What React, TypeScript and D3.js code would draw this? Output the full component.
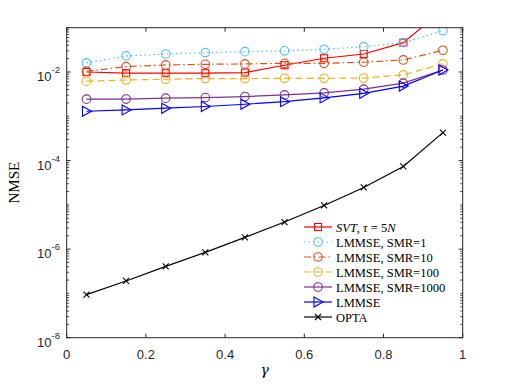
import React from "react";
import * as d3 from "d3";

const gammas = [0.05, 0.15, 0.25, 0.35, 0.45, 0.55, 0.65, 0.75, 0.85, 0.95];
const svt = [0.0100, 0.0094, 0.0094, 0.0094, 0.0097, 0.0142, 0.0204, 0.0255, 0.046, 0.25];
const smr1 = [0.016, 0.023, 0.0255, 0.0274, 0.0288, 0.030, 0.0326, 0.0373, 0.046, 0.0855];
const smr10 = [0.0104, 0.0132, 0.0144, 0.0149, 0.0152, 0.0157, 0.0157, 0.0166, 0.0187, 0.031];
const smr100 = [0.0062, 0.0066, 0.00686, 0.0071, 0.0071, 0.0072, 0.0072, 0.0073, 0.0086, 0.0152];
const smr1000 = [0.00243, 0.00245, 0.00256, 0.00264, 0.00279, 0.00304, 0.00337, 0.0041, 0.0056, 0.0111];
const lmmse = [0.0013, 0.00139, 0.00152, 0.00166, 0.00187, 0.00214, 0.0026, 0.0033, 0.0048, 0.0111];
const opta = [9.4e-8, 1.91e-7, 4.08e-7, 8.45e-7, 1.84e-6, 4.09e-6, 9.7e-6, 2.47e-5, 7.35e-5, 4.28e-4];

const xTicks = [0, 0.2, 0.4, 0.6, 0.8, 1];
const xTickLabels = ["0", "0.2", "0.4", "0.6", "0.8", "1"];
const yMajorExps = [-8, -6, -4, -2];

type Series = {
  name: string;
  values: number[];
  color: string;
  dash: string;
  marker: "square" | "circle" | "triangle" | "x";
  width: number;
};

const series: Series[] = [
  { name: "svt", values: svt, color: "#FF0000", dash: "", marker: "square", width: 1.2 },
  { name: "LMMSE, SMR=1", values: smr1, color: "#4DBEEE", dash: "1.5,3", marker: "circle", width: 1.2 },
  { name: "LMMSE, SMR=10", values: smr10, color: "#D95319", dash: "7,3,1.5,3", marker: "circle", width: 1.2 },
  { name: "LMMSE, SMR=100", values: smr100, color: "#EDB120", dash: "7,4", marker: "circle", width: 1.2 },
  { name: "LMMSE, SMR=1000", values: smr1000, color: "#7E2F8E", dash: "", marker: "circle", width: 1.2 },
  { name: "LMMSE", values: lmmse, color: "#0000FF", dash: "", marker: "triangle", width: 1.2 },
  { name: "OPTA", values: opta, color: "#000000", dash: "", marker: "x", width: 1.2 },
];

const W = 512, H = 384;
const L = 66.7, R = 462.7, T = 27.7, B = 337.7;

function Marker({ type, x, y, color }: { type: string; x: number; y: number; color: string }) {
  if (type === "circle") return <circle cx={x} cy={y} r={4.3} fill="none" stroke={color} strokeWidth={1.1} />;
  if (type === "square") return <rect x={x - 3.5} y={y - 3.5} width={7} height={7} fill="none" stroke={color} strokeWidth={1.1} />;
  if (type === "triangle")
    return <path d={`M${x - 4},${y - 5}L${x + 5},${y}L${x - 4},${y + 5}Z`} fill="none" stroke={color} strokeWidth={1.1} />;
  return <path d={`M${x - 3},${y - 3}L${x + 3},${y + 3}M${x - 3},${y + 3}L${x + 3},${y - 3}`} stroke={color} strokeWidth={1.1} />;
}

export default function App() {
  const x = d3.scaleLinear().domain([0, 1]).range([L, R]);
  const y = d3.scaleLog().domain([1e-8, 1e-1]).range([B, T]);
  const line = d3.line<number>().x((_, i) => x(gammas[i])).y((d) => y(d));

  const minor: number[] = [];
  for (let e = -8; e < -1; e++) {
    for (let k = 1; k <= 9; k++) {
      const v = k * Math.pow(10, e);
      if (k === 1 && yMajorExps.includes(e)) continue;
      minor.push(v);
    }
  }
  minor.push(1e-1);

  const axisColor = "#262626";
  const legX0 = 304, legX1 = 332, legTextX = 336, legY0 = 227, legDy = 15;

  return (
    <svg width={W} height={H} style={{ position: "absolute", left: 0, top: 0, background: "#fff" }}>
      <defs>
        <clipPath id="plotclip">
          <rect x={L} y={T} width={R - L} height={B - T} />
        </clipPath>
      </defs>
      <rect x={0} y={0} width={W} height={H} fill="#fff" />
      <g clipPath="url(#plotclip)">
        {series.map((s) => (
          <g key={s.name}>
            <path d={line(s.values) || ""} fill="none" stroke={s.color} strokeWidth={s.width} strokeDasharray={s.dash} />
            {s.values.map((v, i) =>
              y(v) >= T ? <Marker key={i} type={s.marker} x={x(gammas[i])} y={y(v)} color={s.color} /> : null
            )}
          </g>
        ))}
      </g>
      <rect x={L} y={T} width={R - L} height={B - T} fill="none" stroke={axisColor} strokeWidth={1} />
      {xTicks.map((t, i) => (
        <g key={"xt" + i}>
          <line x1={x(t)} x2={x(t)} y1={B} y2={B - 4} stroke={axisColor} />
          <line x1={x(t)} x2={x(t)} y1={T} y2={T + 4} stroke={axisColor} />
          <text x={x(t)} y={358.5} textAnchor="middle" fontFamily="Liberation Sans, Arial, sans-serif" fontSize={13} fill="#262626">
            {xTickLabels[i]}
          </text>
        </g>
      ))}
      {yMajorExps.map((e) => {
        const yy = y(Math.pow(10, e));
        return (
          <g key={"ym" + e}>
            <line x1={L} x2={L + 4} y1={yy} y2={yy} stroke={axisColor} />
            <line x1={R} x2={R - 4} y1={yy} y2={yy} stroke={axisColor} />
            <text x={60} y={yy + 9} textAnchor="end" fontFamily="Liberation Sans, Arial, sans-serif" fontSize={13} fill="#262626">
              10
              <tspan dy={-8} fontSize={9.5}>{"-" + Math.abs(e)}</tspan>
            </text>
          </g>
        );
      })}
      {minor.map((v, i) => {
        const yy = y(v);
        return (
          <g key={"mn" + i}>
            <line x1={L} x2={L + 2.5} y1={yy} y2={yy} stroke={axisColor} strokeWidth={0.8} />
            <line x1={R} x2={R - 2.5} y1={yy} y2={yy} stroke={axisColor} strokeWidth={0.8} />
          </g>
        );
      })}
      <text x={264.7} y={375} textAnchor="middle" fontFamily="DejaVu Serif, serif" fontStyle="italic" fontSize={14} fill="#000">
        γ
      </text>
      <text
        transform={`translate(19,${(T + B) / 2}) rotate(-90)`}
        textAnchor="middle"
        fontFamily="Liberation Serif, Times New Roman, serif"
        fontSize={15}
        fill="#000"
      >
        NMSE
      </text>
      {series.map((s, i) => {
        const ly = legY0 + i * legDy;
        return (
          <g key={"lg" + i}>
            <line x1={legX0} x2={legX1} y1={ly} y2={ly} stroke={s.color} strokeWidth={s.width} strokeDasharray={s.dash} />
            <Marker type={s.marker} x={(legX0 + legX1) / 2} y={ly} color={s.color} />
            <text x={legTextX} y={ly + 4.5} fontFamily="Liberation Serif, Times New Roman, serif" fontSize={12.5} fill="#000">
              {s.name === "svt" ? (
                <>
                  <tspan fontStyle="italic">SVT</tspan>
                  <tspan>, </tspan>
                  <tspan fontStyle="italic">τ</tspan>
                  <tspan> = 5</tspan>
                  <tspan fontStyle="italic">N</tspan>
                </>
              ) : (
                s.name
              )}
            </text>
          </g>
        );
      })}
    </svg>
  );
}
